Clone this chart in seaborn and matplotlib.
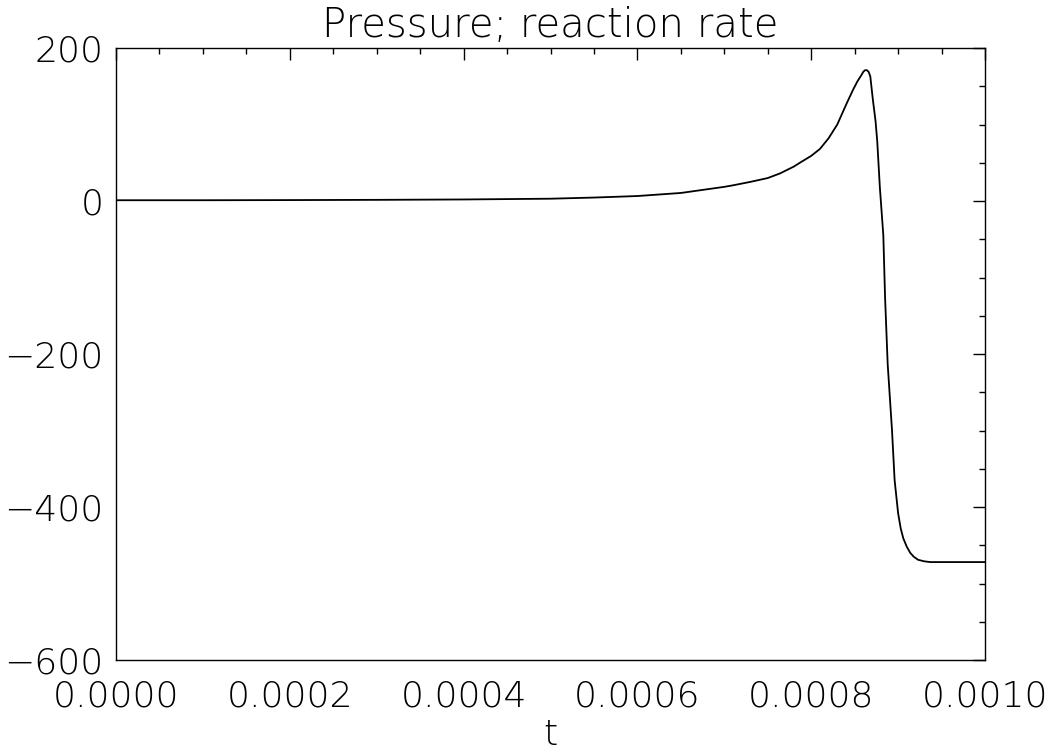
import matplotlib
matplotlib.use("Agg")
import matplotlib.pyplot as plt
from matplotlib.ticker import MultipleLocator, FuncFormatter
import seaborn as sns
import pandas as pd

# Time history of the pressure / reaction-rate signal
t = [0.0, 0.0001, 0.0002, 0.0003, 0.0004, 0.0005, 0.00055, 0.0006,
     0.00065, 0.0007, 0.00071, 0.00073, 0.00075, 0.000764, 0.00078, 0.000787,
     0.0008, 0.00081, 0.00082, 0.00083, 0.000841, 0.000848, 0.000853,
     0.000858, 0.00086, 0.000862, 0.000864, 0.000866, 0.000868, 0.000871,
     0.000874, 0.000876, 0.000879, 0.000883, 0.000885, 0.000888, 0.000893,
     0.000896, 0.0009, 0.000903, 0.000906, 0.00091, 0.000914, 0.000918,
     0.000923, 0.00093, 0.000937, 0.00096, 0.001]
value = [1.0, 1.0, 1.2, 1.5, 2.0, 3.0, 4.5, 6.5,
         10.5, 18.5, 20.5, 25.0, 30.0, 36.0, 45.0, 50.0,
         59.0, 68.0, 82.0, 100.0, 128.0, 145.0, 156.0,
         165.0, 169.0, 171.0, 171.0, 169.0, 163.0, 132.0,
         105.0, 78.0, 18.0, -45.0, -126.0, -213.0, -300.0,
         -365.0, -408.0, -428.0, -441.0, -452.0, -460.0, -465.0,
         -469.0, -471.0, -472.0, -472.0, -472.0]

x_ticks = [0.0, 0.0002, 0.0004, 0.0006, 0.0008, 0.001]
y_ticks = [-600, -400, -200, 0, 200]

sns.set_theme(style="white")
plt.rcParams["font.family"] = ["DejaVu Sans"]
plt.rcParams["font.weight"] = "light"
plt.rcParams["axes.titleweight"] = "light"
plt.rcParams["axes.labelweight"] = "light"
plt.rcParams["text.color"] = "black"
plt.rcParams["xtick.color"] = "black"
plt.rcParams["ytick.color"] = "black"

df = pd.DataFrame({"t": t, "value": value})

fig = plt.figure(figsize=(10.55, 7.51), dpi=100)
ax = fig.add_axes([116 / 1055, 1 - 660 / 751, (985 - 116) / 1055, (660 - 48) / 751])

sns.lineplot(data=df, x="t", y="value", ax=ax, color="black", linewidth=1.3)

ax.set_xlim(0, 0.001)
ax.set_ylim(-600, 200)
ax.set_xticks(x_ticks)
ax.set_yticks(y_ticks)
ax.xaxis.set_major_formatter(FuncFormatter(lambda v, p: f"{v:.4f}"))
ax.yaxis.set_major_formatter(
    FuncFormatter(lambda v, p: f"{int(round(v))}".replace("-", "\u2212")))
ax.xaxis.set_minor_locator(MultipleLocator(0.00005))
ax.yaxis.set_minor_locator(MultipleLocator(50))

ax.tick_params(which="both", direction="in", top=True, right=True,
               color="black", width=1.0)
ax.tick_params(which="major", length=8.5)
ax.tick_params(which="minor", length=4.3)
ax.tick_params(axis="x", which="major", pad=14, labelsize=26)
ax.tick_params(axis="y", which="major", pad=9, labelsize=26)

for sp in ax.spines.values():
    sp.set_color("black")
    sp.set_linewidth(1.0)

ax.set_xlabel("t", fontsize=26, fontweight="light", color="black", labelpad=3)
ax.set_ylabel("")
ax.set_title("Pressure; reaction rate", fontsize=29, fontweight="light",
             color="black", pad=8)
ax.grid(False)

fig.savefig("out.png", dpi=100, facecolor="white")
